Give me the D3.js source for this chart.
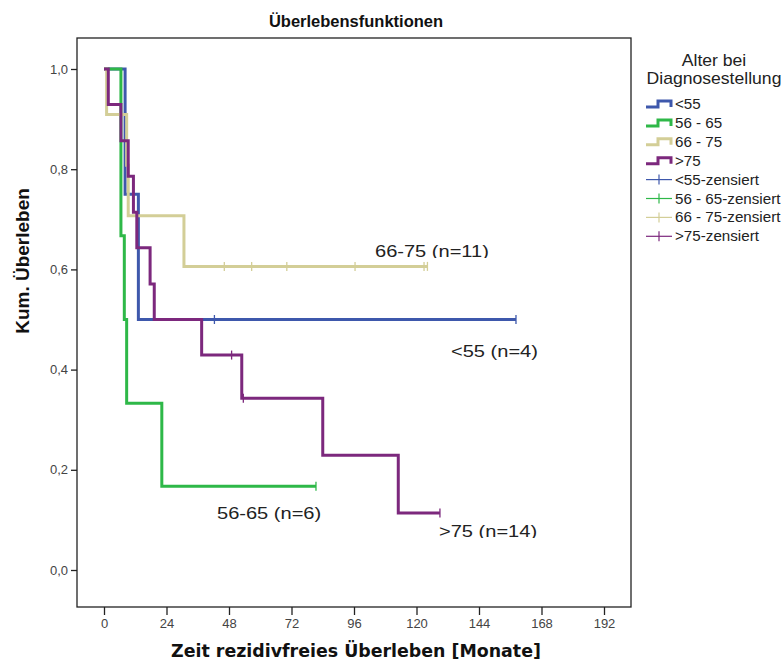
<!DOCTYPE html>
<html>
<head>
<meta charset="utf-8">
<script src="https://cdn.jsdelivr.net/npm/d3@7"></script>
<style>
  html, body { margin: 0; padding: 0; background: #fff; }
  svg { display: block; }
  text { font-family: Arial, "Liberation Sans", sans-serif; }
</style>
</head>
<body>
<svg id="chart" width="784" height="662"></svg>
<script>
// ---------------- data ----------------
const groups = ["<55", "56 - 65", "66 - 75", ">75"];
const colors = ["#3E58AC", "#2EB848", "#D3CE97", "#7C287D"];
const curveLabels = ["<55 (n=4)", "56-65 (n=6)", "66-75 (n=11)", ">75 (n=14)"];

// step times (months) and survival after each step
const timesLt55 = [0, 8.1, 13.2];
const survLt55  = [1, 0.75, 0.5];
const endLt55 = 158.2;
const censLt55 = [42.4, 158.2];

const times5665 = [0, 6.5, 7.8, 8.7, 22.2];
const surv5665  = [1, 0.667, 0.5, 0.333, 0.167];
const end5665 = 81.4;
const cens5665 = [81.4];

const times6675 = [0, 1.0, 8.7, 9.3, 30.7];
const surv6675  = [1, 0.909, 0.808, 0.707, 0.606];
const end6675 = 124.2;
const cens6675 = [46.2, 56.7, 70.2, 96.4, 122.9, 124.2];

const timesGt75 = [0, 1.65, 6.5, 9.3, 11.3, 12.6, 17.7, 19.3, 37.5, 52.9, 84.0, 113.0];
const survGt75  = [1, 0.929, 0.857, 0.786, 0.714, 0.643, 0.571, 0.5, 0.429, 0.343, 0.229, 0.114];
const endGt75 = 129.0;
const censGt75 = [49.0, 53.5, 129.0];

const xTicks = [0, 24, 48, 72, 96, 120, 144, 168, 192];
const yTicks = [0, 0.2, 0.4, 0.6, 0.8, 1.0];

const chartTitle = "Überlebensfunktionen";
const xTitle = "Zeit rezidivfreies Überleben [Monate]";
const yTitle = "Kum. Überleben";
const legendTitle = ["Alter bei", "Diagnosestellung"];
const legendItems = ["<55", "56 - 65", "66 - 75", ">75",
  "<55-zensiert", "56 - 65-zensiert", "66 - 75-zensiert", ">75-zensiert"];

// ---------------- build ----------------
const series = [
  {t: timesLt55, s: survLt55, end: endLt55, cens: censLt55},
  {t: times5665, s: surv5665, end: end5665, cens: cens5665},
  {t: times6675, s: surv6675, end: end6675, cens: cens6675},
  {t: timesGt75, s: survGt75, end: endGt75, cens: censGt75}
].map((d, i) => {
  const pts = d.t.map((t, j) => [t, d.s[j]]);
  pts.push([d.end, d.s[d.s.length - 1]]);
  const survAt = t => { let v = 1; d.t.forEach((tt, j) => { if (tt <= t) v = d.s[j]; }); return v; };
  return {pts, cens: d.cens.map(c => [c, survAt(c)]), color: colors[i], name: groups[i]};
});

const svg = d3.select("#chart");
const defs = svg.append("defs");
const frame = {left: 77, right: 631, top: 38, bottom: 607};

const x = d3.scaleLinear().domain([0, 192]).range([104, 604]);
const y = d3.scaleLinear().domain([0, 1]).range([570, 69]);

// frame
svg.append("rect")
  .attr("x", frame.left).attr("y", frame.top)
  .attr("width", frame.right - frame.left).attr("height", frame.bottom - frame.top)
  .attr("fill", "#fff").attr("stroke", "#222").attr("stroke-width", 1.3);

// axes
const fmt = d => d3.format(".1f")(d).replace(".", ",");
const yAxis = svg.append("g").attr("transform", `translate(${frame.left},0)`)
  .call(d3.axisLeft(y).tickValues(yTicks).tickFormat(fmt).tickSize(6).tickPadding(3));
const xAxis = svg.append("g").attr("transform", `translate(0,${frame.bottom})`)
  .call(d3.axisBottom(x).tickValues(xTicks).tickFormat(d3.format("d")).tickSize(8).tickPadding(4));
[yAxis, xAxis].forEach(a => {
  a.select(".domain").remove();
  a.selectAll("line").attr("stroke", "#222").attr("stroke-width", 1.3);
  a.selectAll("text").attr("fill", "#444").style("font-size", "13px")
    .style("font-family", "Arial, 'Liberation Sans', sans-serif");
});

// curves
const line = d3.line().x(d => x(d[0])).y(d => y(d[1])).curve(d3.curveStepAfter);
const gCurves = svg.append("g");
series.forEach(s => {
  gCurves.append("path").attr("d", line(s.pts)).attr("fill", "none")
    .attr("stroke", s.color).attr("stroke-width", 3).attr("stroke-linejoin", "miter");
});
series.forEach(s => {
  gCurves.selectAll(null).data(s.cens).enter().append("line")
    .attr("x1", d => x(d[0])).attr("x2", d => x(d[0]))
    .attr("y1", d => y(d[1]) - 4.5).attr("y2", d => y(d[1]) + 4.5)
    .attr("stroke", s.color).attr("stroke-width", 1.3);
});

// curve labels (text boxes; the bottom of some is cut as in the original)
const labelPos = [[451, 357, 364], [217, 519, 526], [375, 257, 258], [439, 537, 538]];
curveLabels.forEach((t, i) => {
  const [lx, ly, clipBottom] = labelPos[i];
  const id = "clipLbl" + i;
  defs.append("clipPath").attr("id", id).append("rect")
    .attr("x", lx - 5).attr("y", ly - 30).attr("width", 200).attr("height", clipBottom - (ly - 30));
  svg.append("g").attr("clip-path", `url(#${id})`)
    .append("text").attr("transform", `translate(${lx},${ly}) scale(1.18,1)`)
    .attr("fill", "#222").style("font-size", "17px").text(t);
});

// titles
svg.append("text").attr("x", 356).attr("y", 27).attr("text-anchor", "middle")
  .style("font-size", "16.5px").style("font-weight", "bold").attr("fill", "#111").text(chartTitle);
svg.append("text").attr("x", 356).attr("y", 657).attr("text-anchor", "middle")
  .style("font-family", "'DejaVu Sans', Verdana, sans-serif")
  .style("font-size", "17.4px").style("font-weight", "bold").attr("fill", "#111").text(xTitle);
svg.append("text").attr("transform", "translate(29,261) rotate(-90)").attr("text-anchor", "middle")
  .style("font-size", "19px").style("font-weight", "bold").attr("fill", "#111").text(yTitle);

// legend
const lg = svg.append("g");
legendTitle.forEach((t, i) => {
  lg.append("text").attr("transform", `translate(714,${66 + i * 18}) scale(1.1,1)`).attr("text-anchor", "middle")
    .attr("fill", "#222").style("font-size", "16px").text(t);
});
legendItems.forEach((t, i) => {
  const yy = 104 + i * 18.9;
  const c = colors[i % 4];
  if (i < 4) {
    lg.append("path")
      .attr("d", `M646,${yy + 3}H658V${yy - 3}H671V${yy + 3}`)
      .attr("fill", "none").attr("stroke", c).attr("stroke-width", 3);
  } else {
    lg.append("line").attr("x1", 646).attr("x2", 672).attr("y1", yy).attr("y2", yy)
      .attr("stroke", c).attr("stroke-width", 1.2);
    lg.append("line").attr("x1", 659).attr("x2", 659).attr("y1", yy - 5).attr("y2", yy + 5)
      .attr("stroke", c).attr("stroke-width", 1.2);
  }
  lg.append("text").attr("transform", `translate(675,${yy + 5}) scale(1.1,1)`).attr("fill", "#222")
    .style("font-size", "13.8px").text(t);
});
</script>
</body>
</html>
